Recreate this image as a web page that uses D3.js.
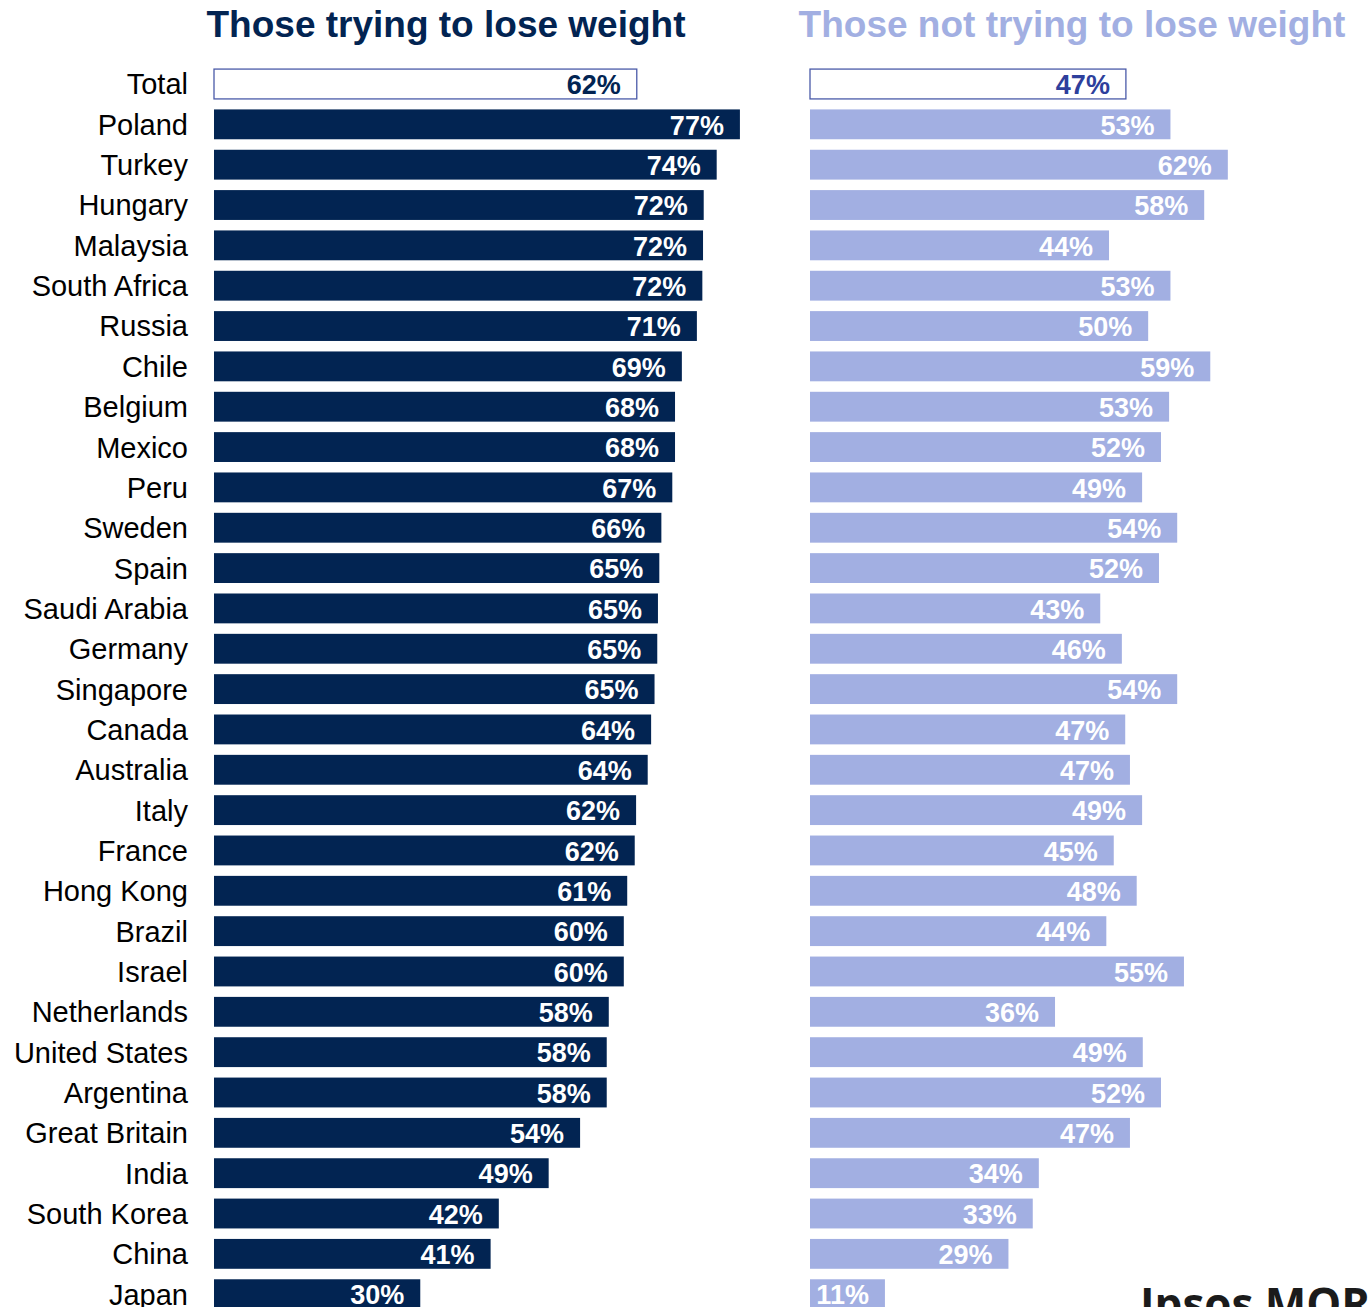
<!DOCTYPE html>
<html>
<head>
<meta charset="utf-8">
<script src="https://cdn.jsdelivr.net/npm/d3@7"></script>
<style>
  body { margin: 0; background: #fff; }
  svg { display: block; }
  text { font-family: "Liberation Sans", Arial, sans-serif; }
</style>
</head>
<body>
<div id="chart"></div>
<script>
(function(){
	var width = 1368,
		height = 1307;

	// categories, top to bottom
	var countries = ["Total","Poland","Turkey","Hungary","Malaysia","South Africa","Russia","Chile",
		"Belgium","Mexico","Peru","Sweden","Spain","Saudi Arabia","Germany","Singapore","Canada",
		"Australia","Italy","France","Hong Kong","Brazil","Israel","Netherlands","United States",
		"Argentina","Great Britain","India","South Korea","China","Japan"];

	// % trying to lose weight (bar lengths)
	var trying = [61.9,77.0,73.6,71.7,71.6,71.5,70.7,68.5,67.5,67.5,67.1,65.5,65.2,65.0,64.9,64.5,
		64.0,63.5,61.8,61.6,60.5,60.0,60.0,57.8,57.5,57.5,53.6,49.0,41.7,40.5,30.2];

	// % not trying to lose weight
	var notTrying = [46.8,53.4,61.9,58.4,44.3,53.4,50.1,59.3,53.2,52.0,49.2,54.4,51.7,43.0,46.2,54.4,
		46.7,47.4,49.2,45.0,48.4,43.9,55.4,36.3,49.3,52.0,47.4,33.9,33.0,29.4,11.1];

	var titles = ["Those trying to lose weight","Those not trying to lose weight"];

	var navy = "#022452",
		lilac = "#a2afe2";

	var svg = d3.select("#chart")
		.append("svg")
		.attr("width", width)
		.attr("height", height);

	var step = 40.34;
	var y = d3.scaleBand()
		.domain(countries)
		.range([84 - step/2, 84 - step/2 + step*countries.length])
		.paddingInner(0.26)
		.paddingOuter(0.13);

	var xL = d3.scaleLinear().domain([0,100]).range([214, 214 + 683]);
	var xR = d3.scaleLinear().domain([0,100]).range([810, 810 + 675]);

	// titles
	svg.append("text")
		.attr("x", 446).attr("y", 37)
		.attr("text-anchor","middle")
		.style("font-weight","bold").style("font-size","37px")
		.attr("fill", navy)
		.text(titles[0]);
	svg.append("text")
		.attr("x", 1072).attr("y", 37)
		.attr("text-anchor","middle")
		.style("font-weight","bold").style("font-size","37px")
		.attr("fill", lilac)
		.text(titles[1]);

	// category labels
	svg.selectAll(".cat")
		.data(countries)
		.enter().append("text")
		.attr("class","cat")
		.attr("x", 188)
		.attr("y", function(d){ return y(d) + y.bandwidth()/2; })
		.attr("dy","0.36em")
		.attr("text-anchor","end")
		.style("font-size","29px")
		.attr("fill","#000")
		.text(function(d){ return d; });

	function drawSide(vals, x, fill, totalText) {
		var g = svg.append("g");
		g.selectAll("rect")
			.data(vals)
			.enter().append("rect")
			.attr("x", x(0))
			.attr("y", function(d,i){ return y(countries[i]); })
			.attr("width", function(d){ return x(d) - x(0); })
			.attr("height", y.bandwidth())
			.attr("fill", function(d,i){ return i === 0 ? "#fff" : fill; })
			.attr("stroke", function(d,i){ return i === 0 ? "#4a5aa8" : "none"; })
			.attr("stroke-width", 1.3);

		g.selectAll("text")
			.data(vals)
			.enter().append("text")
			.attr("x", function(d){ return x(d) - 16; })
			.attr("y", function(d,i){ return y(countries[i]) + y.bandwidth()/2; })
			.attr("dy","0.38em")
			.attr("text-anchor","end")
			.style("font-weight","bold")
			.style("font-size","27px")
			.attr("fill", function(d,i){ return i === 0 ? totalText : "#fff"; })
			.text(function(d){ return Math.round(d) + "%"; });
	}

	drawSide(trying, xL, navy, navy);
	drawSide(notTrying, xR, lilac, "#2e3f9c");

	// logo, cut by the page edge
	svg.append("text")
		.attr("x", 1140).attr("y", 1320)
		.style("font-family","'Open Sans', sans-serif")
		.style("font-weight","bold")
		.style("font-size","44px")
		.attr("fill","#1b1b1b")
		.text("Ipsos MORI");
})();
</script>
</body>
</html>
